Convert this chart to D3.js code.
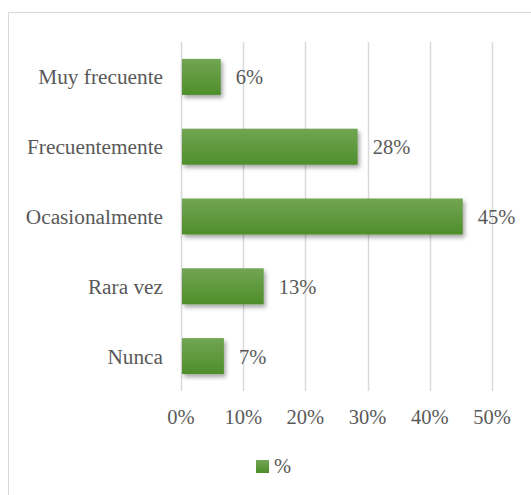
<!DOCTYPE html>
<html>
<head>
<meta charset="utf-8">
<script src="https://cdn.jsdelivr.net/npm/d3@7"></script>
<style>
  html, body { margin: 0; padding: 0; background: #fff; }
  svg { display: block; }
  text { font-family: "Liberation Serif", "Times New Roman", serif; fill: #595959; }
</style>
</head>
<body>
<svg id="chart" width="531" height="495"></svg>
<script>
const categories = ["Muy frecuente", "Frecuentemente", "Ocasionalmente", "Rara vez", "Nunca"];
const values = [0.064, 0.284, 0.453, 0.133, 0.069];
const valueLabels = ["6%", "28%", "45%", "13%", "7%"];
const tickValues = [0, 0.1, 0.2, 0.3, 0.4, 0.5];
const tickLabels = ["0%", "10%", "20%", "30%", "40%", "50%"];
const seriesName = "%";

const svg = d3.select("#chart");
const W = 531, H = 495;
const catFont = 21.3;
const numFont = 20.5;

// chart border
svg.append("rect")
  .attr("x", 8.5).attr("y", 12.5)
  .attr("width", W + 10).attr("height", H + 10)
  .attr("fill", "#fff").attr("stroke", "#d9d9d9").attr("stroke-width", 1);

const defs = svg.append("defs");
const grad = defs.append("linearGradient").attr("id", "barGrad")
  .attr("x1", 0).attr("y1", 0).attr("x2", 0).attr("y2", 1);
grad.append("stop").attr("offset", "0%").attr("stop-color", "#72a553");
grad.append("stop").attr("offset", "100%").attr("stop-color", "#4e8e2a");
const f = defs.append("filter").attr("id", "shadow")
  .attr("x", "-20%").attr("y", "-30%").attr("width", "150%").attr("height", "180%");
f.append("feDropShadow").attr("dx", 2).attr("dy", 3).attr("stdDeviation", 2)
  .attr("flood-color", "#000").attr("flood-opacity", 0.35);

const plotTop = 42, plotBottom = 391;
const x = d3.scaleLinear().domain([0, 0.5]).range([181, 492]);
const y = d3.scaleBand().domain(categories).range([plotTop, plotBottom])
  .paddingInner(0.484).paddingOuter(0.242);

// gridlines
svg.append("g").selectAll("line").data(tickValues).join("line")
  .attr("x1", d => Math.round(x(d)) + 0.5).attr("x2", d => Math.round(x(d)) + 0.5)
  .attr("y1", plotTop).attr("y2", plotBottom)
  .attr("stroke", "#d9d9d9").attr("stroke-width", 1.5);

// bars
svg.append("g").selectAll("rect").data(categories).join("rect")
  .attr("x", x(0) + 1)
  .attr("y", d => y(d))
  .attr("width", (d, i) => x(values[i]) - x(0) - 1)
  .attr("height", y.bandwidth())
  .attr("fill", "url(#barGrad)")
  .attr("filter", "url(#shadow)");

// category labels
svg.append("g").selectAll("text").data(categories).join("text")
  .attr("x", 163)
  .attr("y", d => y(d) + y.bandwidth() / 2 + 7.5)
  .attr("text-anchor", "end")
  .attr("font-size", catFont)
  .text(d => d);

// value labels
svg.append("g").selectAll("text").data(categories).join("text")
  .attr("x", (d, i) => x(values[i]) + 15)
  .attr("y", d => y(d) + y.bandwidth() / 2 + 7.5)
  .attr("font-size", numFont)
  .text((d, i) => valueLabels[i]);

// tick labels
svg.append("g").selectAll("text").data(tickValues).join("text")
  .attr("x", d => x(d))
  .attr("y", 424)
  .attr("text-anchor", "middle")
  .attr("font-size", numFont)
  .text((d, i) => tickLabels[i]);

// legend
const leg = svg.append("g");
leg.append("rect").attr("x", 256).attr("y", 460).attr("width", 13).attr("height", 13)
  .attr("fill", "url(#barGrad)");
leg.append("text").attr("x", 274).attr("y", 473).attr("font-size", numFont).text(seriesName);
</script>
</body>
</html>
